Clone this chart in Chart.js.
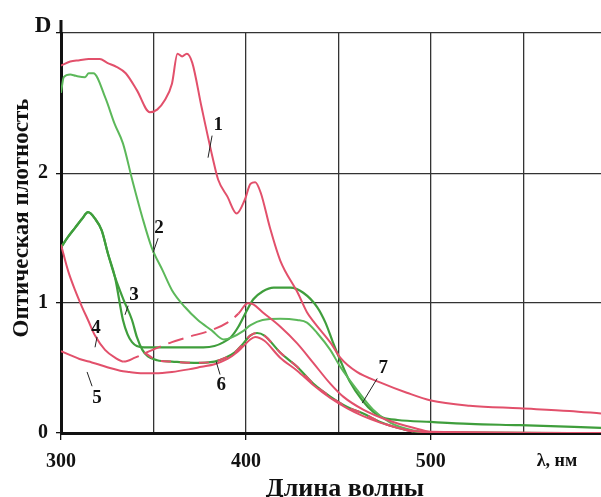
<!DOCTYPE html>
<html>
<head>
<meta charset="utf-8">
<script src="https://cdn.jsdelivr.net/npm/chart.js@4.4.1/dist/chart.umd.min.js"></script>
<style>
  body { margin: 0; background: #fff; }
  #wrap { width: 601px; height: 497px; }
</style>
</head>
<body>
<div id="wrap"><canvas id="spectra" width="601" height="497"></canvas></div>
<script>
// wavelength (nm) / optical density D
const wl1 = [300, 305, 310, 315, 321, 325, 330, 335, 341, 348, 352, 356, 360, 363, 365.5, 368, 371, 376, 382, 385, 390, 395, 399.5, 402.5, 405, 408, 413, 418.5, 428, 433, 437, 446, 451, 460, 472.5, 487, 500, 521, 548, 575, 592];
const d1  = [2.83, 2.86, 2.87, 2.88, 2.88, 2.85, 2.82, 2.77, 2.64, 2.47, 2.49, 2.56, 2.69, 2.92, 2.90, 2.92, 2.85, 2.51, 2.12, 1.95, 1.82, 1.69, 1.80, 1.92, 1.93, 1.85, 1.58, 1.33, 1.08, 0.93, 0.85, 0.69, 0.58, 0.47, 0.39, 0.31, 0.25, 0.21, 0.19, 0.17, 0.15];

const wl2 = [300, 301.5, 305, 308, 313, 315, 317.5, 324, 329, 333.5, 338.5, 344, 349, 355, 360, 367, 374, 381.5, 388, 393, 398, 402.5, 409, 418.5, 427.7, 433, 438.5, 445.6, 451, 460.2, 468.8, 478, 490.5, 500, 592];
const d2  = [2.62, 2.74, 2.76, 2.75, 2.74, 2.77, 2.77, 2.58, 2.38, 2.23, 1.95, 1.66, 1.43, 1.25, 1.10, 0.97, 0.87, 0.79, 0.72, 0.74, 0.78, 0.83, 0.87, 0.88, 0.87, 0.85, 0.77, 0.64, 0.51, 0.33, 0.18, 0.08, 0.02, 0.008, 0];

const wl3 = [300, 303.8, 307.6, 311.4, 314.6, 318.4, 322, 325.4, 329.2, 334, 338.4, 341, 344, 347, 352, 360, 372, 383, 389, 394, 398, 402.3, 406, 410, 418.5, 427.7, 436.4, 445.6, 454.8, 463.4, 472.6, 481.8, 490.5, 500, 592];
const d3  = [1.43, 1.51, 1.58, 1.65, 1.70, 1.65, 1.56, 1.38, 1.20, 1.02, 0.87, 0.74, 0.64, 0.59, 0.56, 0.55, 0.54, 0.55, 0.58, 0.62, 0.68, 0.75, 0.77, 0.75, 0.62, 0.51, 0.38, 0.28, 0.20, 0.15, 0.085, 0.04, 0.012, 0.004, 0];

const wl4 = [300, 303.8, 307.6, 311.4, 314.6, 318.4, 323.8, 329.2, 334, 340, 351, 360, 369, 381, 390, 396, 401, 404, 409, 418.5, 427.7, 436.4, 445.6, 452.6, 463.4, 476.4, 490.5, 500, 592];
const d4  = [1.45, 1.25, 1.10, 0.97, 0.87, 0.75, 0.64, 0.58, 0.55, 0.58, 0.65, 0.70, 0.74, 0.79, 0.85, 0.92, 1.00, 0.99, 0.93, 0.82, 0.69, 0.54, 0.38, 0.28, 0.18, 0.10, 0.04, 0.01, 0];

const wl5 = [300, 305, 310, 315, 320, 326.5, 332, 337, 343, 351, 360, 369, 376, 383, 390, 395, 398, 402.3, 405, 410, 418.5, 427.7, 436.4, 445.6, 454.8, 463.4, 472.6, 481.8, 490.5, 500, 592];
const d5  = [0.63, 0.60, 0.57, 0.55, 0.53, 0.50, 0.48, 0.47, 0.46, 0.46, 0.47, 0.49, 0.51, 0.53, 0.57, 0.62, 0.66, 0.72, 0.74, 0.71, 0.58, 0.48, 0.37, 0.27, 0.19, 0.13, 0.08, 0.04, 0.015, 0.005, 0];

const wl6 = [345, 352, 360, 372, 383, 389, 394, 398, 402.3, 406, 410, 418.5, 427.7, 436.4, 445.6, 454.8, 463.4, 472.6, 481.8, 490.5, 500];
const d6  = [0.62, 0.56, 0.55, 0.54, 0.55, 0.58, 0.62, 0.68, 0.75, 0.77, 0.75, 0.62, 0.51, 0.38, 0.28, 0.20, 0.15, 0.085, 0.04, 0.012, 0.004];

const wl7 = [300, 303.8, 307.6, 311.4, 314.6, 318.4, 322, 325.4, 329.2, 333.5, 336, 338.4, 341, 345, 351, 360, 369, 377, 383, 388, 392, 396, 400, 404, 409, 415, 424, 431, 438.5, 443, 447, 451, 456, 463, 469, 474, 482, 500, 521, 548, 592];
const d7  = [1.43, 1.51, 1.58, 1.65, 1.70, 1.65, 1.56, 1.38, 1.20, 0.87, 0.76, 0.70, 0.67, 0.66, 0.66, 0.66, 0.66, 0.66, 0.67, 0.70, 0.74, 0.82, 0.93, 1.03, 1.09, 1.12, 1.12, 1.08, 0.97, 0.85, 0.70, 0.56, 0.40, 0.25, 0.16, 0.12, 0.10, 0.085, 0.07, 0.06, 0.04];

// axes
const xMin = 300, xMax = 592;
const xGrid = [300, 350, 400, 450, 500, 550];
const xLabeled = [300, 400, 500];
const yMin = 0, yMax = 3.08;
const yGrid = [0, 1, 2, 3.08];
const yLabeled = [0, 1, 2];

// curve numbers with their leader lines (data units)
const tagText = ['1', '2', '3', '4', '5', '6', '7'];
const tagAt   = [[385, 2.37], [353, 1.58], [339.5, 1.06], [318.9, 0.81], [319.5, 0.27], [386.6, 0.37], [474.2, 0.50]];
const tagFrom = [[381.7, 2.29], [352.5, 1.50], [336.3, 0.98], [319.5, 0.74], [316.8, 0.36], [386, 0.45], [471, 0.42]];
const tagTo   = [[379.5, 2.12], [349.8, 1.39], [334.6, 0.91], [318.4, 0.66], [314.1, 0.47], [383.9, 0.55], [462.9, 0.23]];

const RED = "#e2506b";
const GREEN = "#5cb85a";
const DKGREEN = "#3f9e3c";
const SERIF = "'Liberation Serif', 'DejaVu Serif', serif";

const pts = (xs, ys) => xs.map((x, i) => ({ x: x, y: ys[i] }));

function line(label, xs, ys, color, width, extra) {
  return Object.assign({
    label: label,
    data: pts(xs, ys),
    borderColor: color,
    borderWidth: width,
    pointRadius: 0,
    fill: false,
    cubicInterpolationMode: "monotone",
  }, extra || {});
}

const decor = {
  id: "decor",
  afterDraw(chart) {
    const { ctx, scales: { x, y }, chartArea } = chart;
    ctx.save();
    ctx.fillStyle = "#111";
    ctx.strokeStyle = "#111";

    // y axis runs a little above the top grid line
    ctx.lineWidth = 3;
    ctx.beginPath();
    ctx.moveTo(chartArea.left, chartArea.top);
    ctx.lineTo(chartArea.left, 20);
    ctx.stroke();

    ctx.font = "bold 23px " + SERIF;
    ctx.textAlign = "center";
    ctx.textBaseline = "middle";
    ctx.fillText("D", 43, 26);

    ctx.font = "bold 18px " + SERIF;
    ctx.fillText("λ, нм", 557, 461);

    ctx.font = "bold 26px " + SERIF;
    ctx.textBaseline = "alphabetic";
    ctx.fillText("Длина волны", 345, 496);

    ctx.save();
    ctx.translate(22, 218);
    ctx.rotate(-Math.PI / 2);
    ctx.font = "bold 23px " + SERIF;
    ctx.textBaseline = "middle";
    ctx.fillText("Оптическая плотность", 0, 0);
    ctx.restore();

    // curve numbers
    ctx.lineWidth = 1;
    ctx.strokeStyle = "#222";
    ctx.font = "bold 19px " + SERIF;
    ctx.textBaseline = "middle";
    tagText.forEach((t, i) => {
      ctx.beginPath();
      ctx.moveTo(x.getPixelForValue(tagFrom[i][0]), y.getPixelForValue(tagFrom[i][1]));
      ctx.lineTo(x.getPixelForValue(tagTo[i][0]), y.getPixelForValue(tagTo[i][1]));
      ctx.stroke();
      ctx.fillText(t, x.getPixelForValue(tagAt[i][0]), y.getPixelForValue(tagAt[i][1]));
    });
    ctx.restore();
  },
};

new Chart(document.getElementById("spectra"), {
  type: "line",
  data: {
    datasets: [
      line("1", wl1, d1, RED, 2),
      line("4", wl4, d4, RED, 2, {
        segment: {
          borderDash: (c) => (c.p0.parsed.x >= 334 && c.p1.parsed.x <= 396 ? [16, 8] : undefined),
        },
      }),
      line("6", wl6, d6, RED, 2, { borderDash: [10, 9] }),
      line("5", wl5, d5, RED, 2),
      line("2", wl2, d2, GREEN, 2),
      line("3", wl3, d3, DKGREEN, 2.2),
      line("7", wl7, d7, DKGREEN, 2.2),
    ],
  },
  options: {
    responsive: false,
    animation: false,
    events: [],
    layout: { padding: { top: 33, right: 0, left: 0, bottom: 0 } },
    plugins: { legend: { display: false }, tooltip: { enabled: false } },
    scales: {
      x: {
        type: "linear",
        min: xMin,
        max: xMax,
        afterBuildTicks: (s) => { s.ticks = xGrid.map((v) => ({ value: v })); },
        afterFit: (s) => { s.height = 64; },
        border: { display: true, color: "#111", width: 3 },
        grid: {
          color: "#333",
          lineWidth: 1.3,
          tickLength: 7,
          tickColor: (c) => (xLabeled.includes(c.tick && c.tick.value) ? "#111" : "rgba(0,0,0,0)"),
        },
        ticks: {
          autoSkip: false,
          maxRotation: 0,
          padding: 10,
          color: "#111",
          font: { family: SERIF, size: 20, weight: "bold" },
          callback: (v) => (xLabeled.includes(v) ? String(v) : ""),
        },
      },
      y: {
        min: yMin,
        max: yMax,
        afterBuildTicks: (s) => { s.ticks = yGrid.map((v) => ({ value: v })); },
        afterFit: (s) => { s.width = 61; },
        border: { display: true, color: "#111", width: 3 },
        grid: {
          color: "#333",
          lineWidth: 1.3,
          tickLength: 5,
          tickColor: "#111",
        },
        ticks: {
          autoSkip: false,
          padding: 8,
          color: "#111",
          font: { family: SERIF, size: 20, weight: "bold" },
          callback: (v) => (yLabeled.includes(v) ? String(v) : ""),
        },
      },
    },
  },
  plugins: [decor],
});
</script>
</body>
</html>
